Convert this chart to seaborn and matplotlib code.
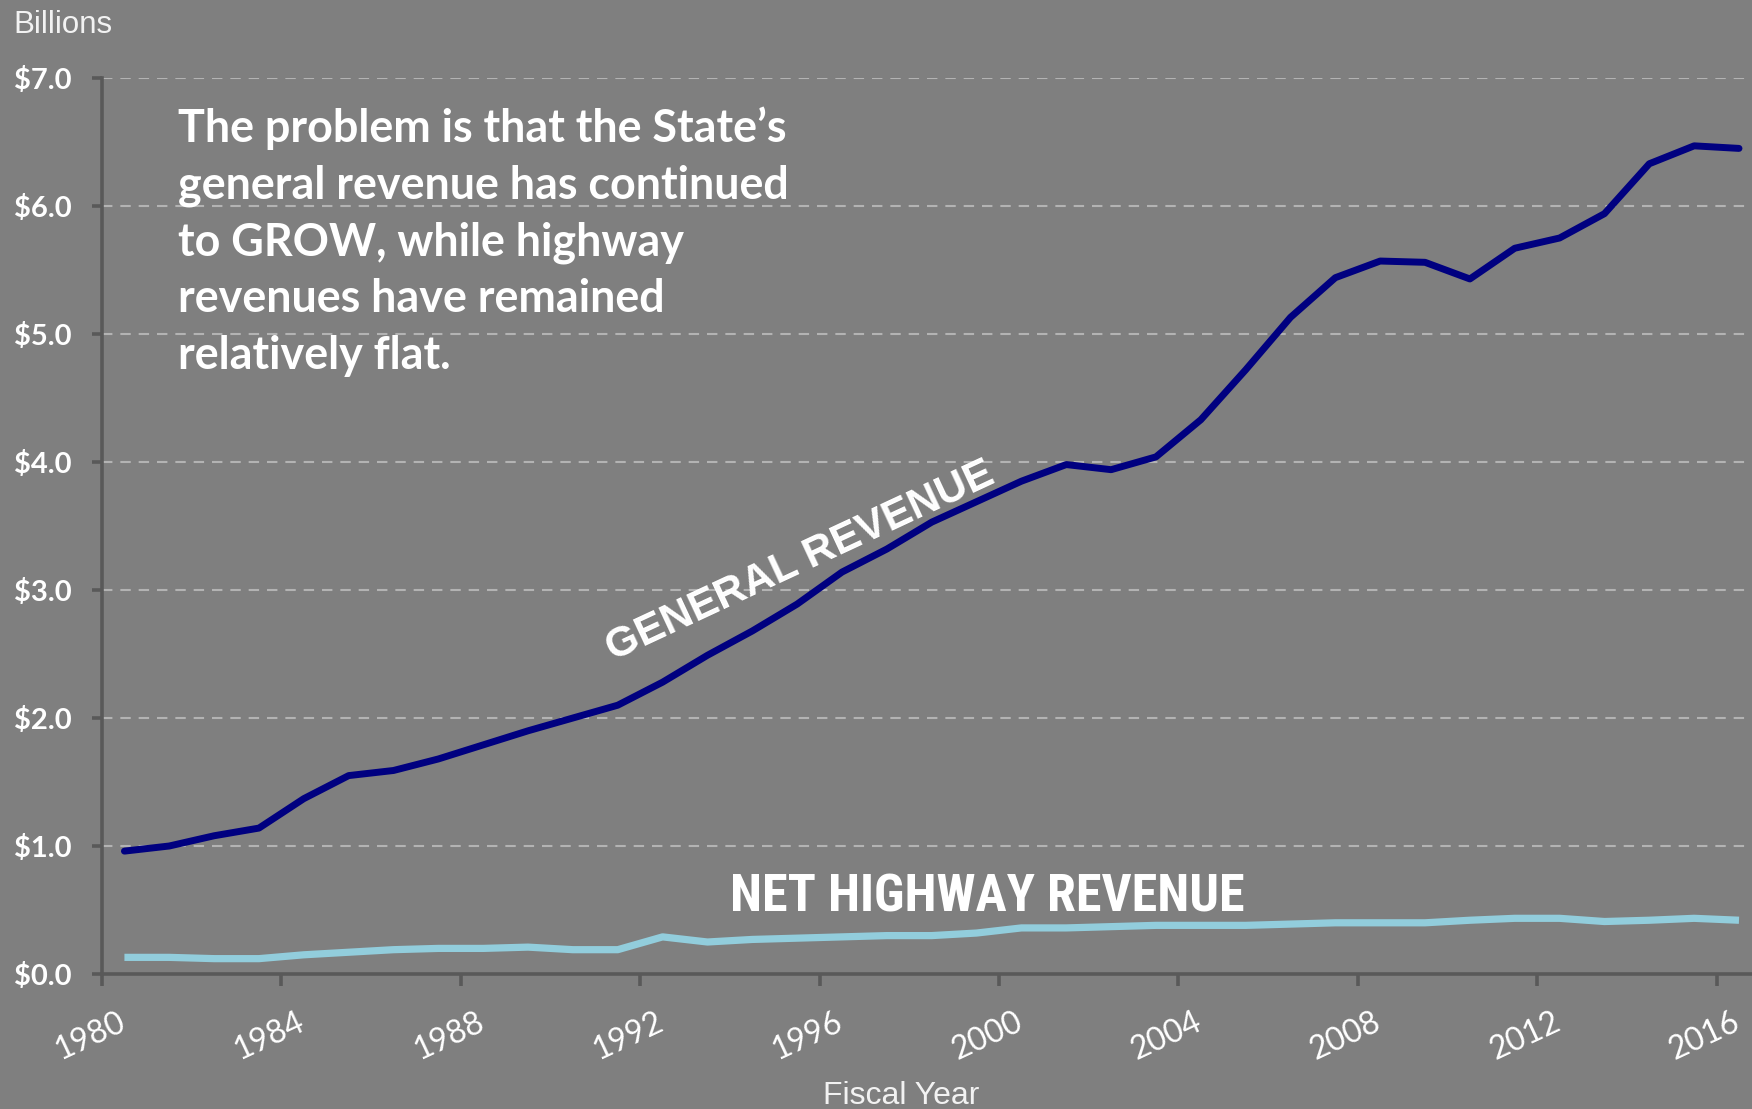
import matplotlib
matplotlib.use("Agg")
import matplotlib.pyplot as plt
import matplotlib.transforms as mtransforms
from matplotlib import font_manager as fm
import seaborn as sns
import pandas as pd
import numpy as np

# ---------------- data ----------------
years = list(range(1980, 2017))
general_revenue = [0.96, 1.00, 1.08, 1.14, 1.37, 1.55, 1.59, 1.68, 1.79, 1.90,
                   2.00, 2.10, 2.28, 2.49, 2.68, 2.89, 3.14, 3.32, 3.53, 3.69,
                   3.85, 3.98, 3.94, 4.04, 4.33, 4.72, 5.13, 5.44, 5.57, 5.56,
                   5.43, 5.67, 5.75, 5.94, 6.33, 6.47, 6.45]
net_highway_revenue = [0.13, 0.13, 0.12, 0.12, 0.15, 0.17, 0.19, 0.20, 0.20, 0.21,
                       0.19, 0.19, 0.29, 0.25, 0.27, 0.28, 0.29, 0.30, 0.30, 0.32,
                       0.36, 0.36, 0.37, 0.38, 0.38, 0.38, 0.39, 0.40, 0.40, 0.40,
                       0.42, 0.435, 0.435, 0.41, 0.42, 0.435, 0.42]
x_tick_years = list(range(1980, 2017, 4))
y_ticks = [0, 1, 2, 3, 4, 5, 6, 7]
y_tick_labels = ["$0.0", "$1.0", "$2.0", "$3.0", "$4.0", "$5.0", "$6.0", "$7.0"]

annotation = ("The problem is that the State\u2019s\n"
              "general revenue has continued\n"
              "to GROW, while highway\n"
              "revenues have remained\n"
              "relatively flat.")

# ---------------- style ----------------
BG = "#7F7F7F"
AXIS = "#595959"
NAVY = "#000080"
LIGHT = "#92CDDC"

sns.set_style("white")
plt.rcParams["font.family"] = ["Lato", "DejaVu Sans"]

installed = {f.name for f in fm.fontManager.ttflist}
narrow_family = None
for cand in ["Liberation Sans Narrow", "Arial Narrow", "Roboto Condensed",
             "Open Sans Condensed", "Noto Sans Condensed"]:
    if cand in installed:
        narrow_family = cand
        break

W, H = 1752, 1109
fig = plt.figure(figsize=(W / 100, H / 100), dpi=100, facecolor=BG)
left = 102 / W
bottom = 1 - 974 / H
top = 1 - 78 / H
ax = fig.add_axes([left, bottom, 1 - left, top - bottom])
ax.set_facecolor(BG)

df = pd.DataFrame({"year": years, "general": general_revenue, "highway": net_highway_revenue})

sns.lineplot(data=df, x="year", y="general", ax=ax, color=NAVY, linewidth=5.0,
             solid_capstyle="round", solid_joinstyle="round", zorder=4)
sns.lineplot(data=df, x="year", y="highway", ax=ax, color=LIGHT, linewidth=5.2,
             solid_capstyle="butt", solid_joinstyle="round", zorder=3)

ax.set_xlim(1979.5, 2016.29)
ax.set_ylim(0, 7)

# grid
ax.set_yticks(y_ticks)
ax.set_yticklabels(y_tick_labels)
ax.yaxis.grid(True, color="#B3B3B3", linewidth=1.5, linestyle=(0, (5.0, 3.8)), zorder=1)
ax.xaxis.grid(False)
ax.set_axisbelow(True)

ax.set_xticks([y - 0.5 for y in x_tick_years])
ax.set_xticklabels([str(y) for y in x_tick_years], rotation=25, ha="center")

for s in ["top", "right"]:
    ax.spines[s].set_visible(False)
for s in ["left", "bottom"]:
    ax.spines[s].set_color(AXIS)
    ax.spines[s].set_linewidth(2.6)
    ax.spines[s].set_zorder(5)

ax.tick_params(axis="y", length=7, width=2.6, color=AXIS, pad=15,
               labelsize=21, labelcolor="white", direction="out", left=True)
ax.tick_params(axis="x", length=8.5, width=2.6, color=AXIS, pad=15,
               labelsize=23, labelcolor="white", direction="out", bottom=True)
for lab in ax.get_yticklabels():
    lab.set_fontweight("bold")
offset = mtransforms.ScaledTranslation(-12 / 100, 0, fig.dpi_scale_trans)
for lab in ax.get_xticklabels():
    lab.set_transform(lab.get_transform() + offset)

ax.set_xlabel("")
ax.set_ylabel("")

# texts
ax.text(1995.06, 3.22, "GENERAL REVENUE", rotation=25, rotation_mode="anchor",
        ha="center", va="center", color="white", fontsize=30.5, fontweight="bold",
        family=["Liberation Sans", "DejaVu Sans"], zorder=6)
if narrow_family is not None:
    ax.text(1999.23, 0.60, "NET HIGHWAY REVENUE", ha="center", va="center",
            color="white", fontsize=37.5, fontweight="bold",
            family=[narrow_family, "DejaVu Sans"], zorder=6)
else:
    ax.text(1999.23, 0.60, "NET HIGHWAY REVENUE", ha="center", va="center",
            color="white", fontsize=31.5, fontweight="bold",
            family=["Liberation Sans", "DejaVu Sans"], zorder=6)

fig.text(178 / W, 1 - 106 / H, annotation, ha="left", va="top", color="white",
         fontsize=32.3, fontweight="bold", linespacing=1.43)

fig.text(13 / W, 1 - 33 / H, "Billions", ha="left", va="baseline", color="#F2F2F2",
         fontsize=22.5, family=["Liberation Sans", "DejaVu Sans"])
fig.text(901 / W, 1 - 1104 / H, "Fiscal Year", ha="center", va="baseline", color="#F2F2F2",
         fontsize=23, family=["Liberation Sans", "DejaVu Sans"])

fig.savefig("out.png", dpi=100, facecolor=BG)
